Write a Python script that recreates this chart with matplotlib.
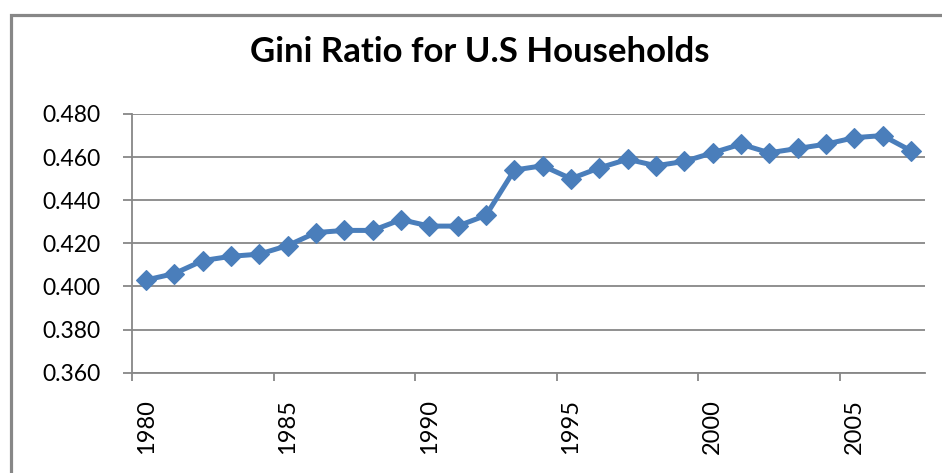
import matplotlib
matplotlib.use("Agg")
import matplotlib.pyplot as plt
from matplotlib.patches import Rectangle
from matplotlib.ticker import FixedLocator, FixedFormatter

plt.rcParams['font.family'] = ['Lato', 'DejaVu Sans']

years = list(range(1980, 2008))
gini = [0.403, 0.406, 0.412, 0.414, 0.415, 0.419, 0.425, 0.426, 0.426, 0.431,
        0.428, 0.428, 0.433, 0.454, 0.456, 0.450, 0.455, 0.459, 0.456, 0.458,
        0.462, 0.466, 0.462, 0.464, 0.466, 0.469, 0.470, 0.463]
y_ticks = [0.360, 0.380, 0.400, 0.420, 0.440, 0.460, 0.480]
x_label_years = [1980, 1985, 1990, 1995, 2000, 2005]
title = "Gini Ratio for U.S Households"

W, H = 942, 473
fig = plt.figure(figsize=(W / 100, H / 100), dpi=100)

# chart frame
fig.patches.append(Rectangle((10.5 / W, -0.1), 1.2, (H - 15.5) / H + 0.1,
                             transform=fig.transFigure, fill=False,
                             edgecolor='#878787', linewidth=2.3))

ax = fig.add_axes([132 / W, 1 - 372.7 / H, (925 - 132) / W, (372.7 - 114) / H])
idx = list(range(len(years)))
ax.plot(idx, gini, color='#4a7ebb', linewidth=3.6, marker='D', markersize=10.5,
        markeredgecolor='#4a7ebb', markeredgewidth=0.8, zorder=3, clip_on=False)

ax.set_xlim(-0.5, len(years) - 0.5)
ax.set_ylim(0.360, 0.480)
ax.set_yticks(y_ticks)
ax.set_yticklabels([f"{v:.3f}" for v in y_ticks])
ax.grid(axis='y', color='#878787', linewidth=1.3)
ax.set_axisbelow(True)

# category axis: ticks at boundaries, labels at category centres
bounds = [i - 0.5 for i in range(0, len(years), 5)]
ax.xaxis.set_major_locator(FixedLocator(bounds))
ax.xaxis.set_major_formatter(FixedFormatter([''] * len(bounds)))
lab_pos = [years.index(y) for y in x_label_years]
ax.xaxis.set_minor_locator(FixedLocator(lab_pos))
ax.xaxis.set_minor_formatter(FixedFormatter([str(y) for y in x_label_years]))
ax.tick_params(axis='x', which='major', length=6, width=1.3, color='#878787', direction='out')
ax.tick_params(axis='x', which='minor', length=0, pad=19, labelsize=17, labelrotation=90)
ax.tick_params(axis='y', length=6.5, width=1.3, color='#878787', pad=16, labelsize=16.5)
for lbl in ax.get_xticklabels(minor=True):
    lbl.set_va('top')

for s in ['top', 'right']:
    ax.spines[s].set_visible(False)
for s in ['left', 'bottom']:
    ax.spines[s].set_color('#878787')
    ax.spines[s].set_linewidth(1.3)

fig.text(480 / W, 1 - 62 / H, title, ha='center', va='baseline',
         fontsize=25, fontweight='bold')

fig.savefig('out.png', dpi=100)
